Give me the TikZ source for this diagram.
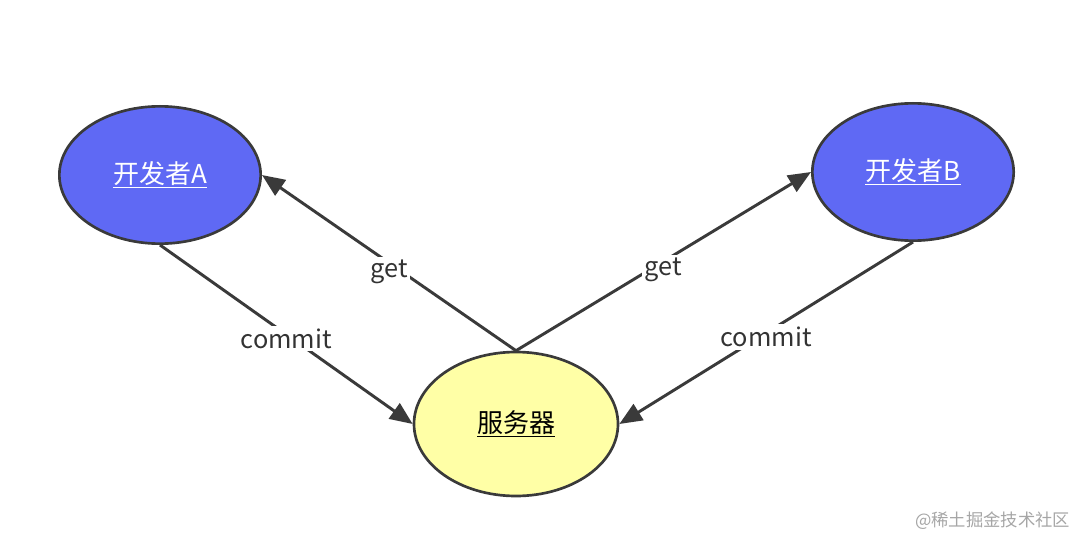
\documentclass[tikz,border=0pt]{standalone}
\usepackage{fontspec}
\setmainfont{Noto Sans CJK SC}
\usetikzlibrary{shapes.geometric,arrows.meta}
\definecolor{devblue}{HTML}{5F69F4}
\definecolor{srvyellow}{HTML}{FFFFA6}
\definecolor{edgegray}{HTML}{3A3A3A}
\definecolor{textgray}{HTML}{333333}

\begin{document}
\begin{tikzpicture}[x=0.75pt,y=-0.75pt,
    devnode/.style={ellipse,draw=edgegray,line width=2pt,fill=devblue,text=white,
        minimum width=151pt,minimum height=103pt,inner sep=0pt,font=\fontsize{19.5}{23}\selectfont},
    srvnode/.style={ellipse,draw=edgegray,line width=2pt,fill=srvyellow,text=black,
        minimum width=153pt,minimum height=108pt,inner sep=0pt,font=\fontsize{19.5}{23}\selectfont},
    flow/.style={draw=edgegray,line width=2.2pt,-{Triangle[length=17pt,width=14pt]}},
    flowlabel/.style={fill=white,text=textgray,inner sep=2pt,font=\fontsize{19}{23}\selectfont}]
    \useasboundingbox (0,0) rectangle (1080,538);
    \node[devnode] (deva) at (160,175) {\underline{开发者A}};
    \node[devnode] (devb) at (913,172) {\underline{开发者B}};
    \node[srvnode] (server) at (516,424) {\underline{服务器}};
    % labels sit a little below the middle of each line
    \draw[flow] (deva.south) -- node[flowlabel,yshift=-3pt] {commit} (server.west);
    \draw[flow] (server.north) -- node[flowlabel,yshift=-6.5pt] {get} (deva.east);
    \draw[flow] (server.north) -- node[flowlabel,yshift=-6.5pt] {get} (devb.west);
    \draw[flow] (devb.south) -- node[flowlabel,yshift=-3pt] {commit} (server.east);
    \node[anchor=east,text=gray!70,font=\fontsize{13}{15}\selectfont] (mark) at (1075,521) {@稀土掘金技术社区};
\end{tikzpicture}
\end{document}
